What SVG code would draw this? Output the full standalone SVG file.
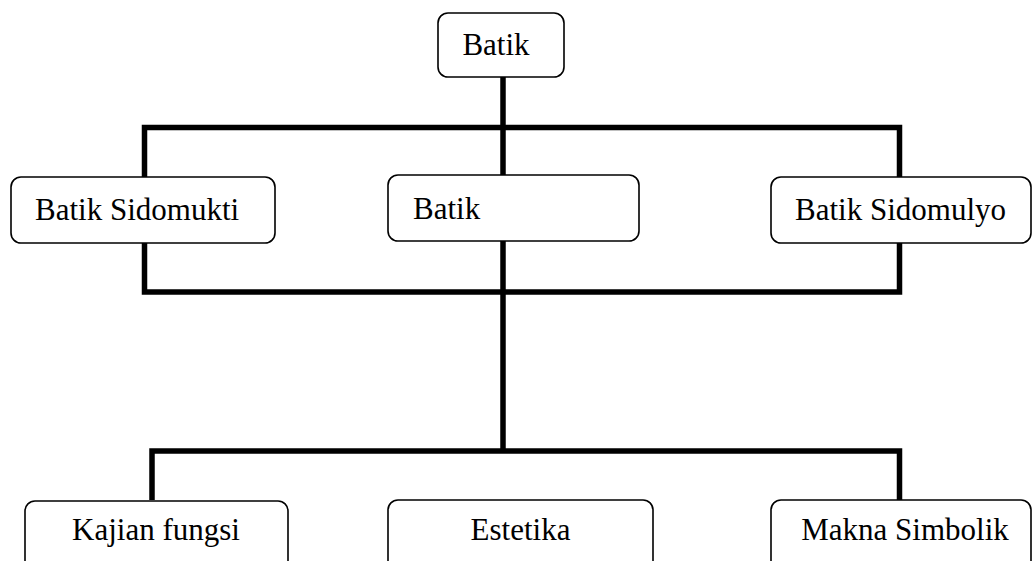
<svg xmlns="http://www.w3.org/2000/svg" width="1033" height="561" viewBox="0 0 1033 561">
<style>
.box{fill:#fff;stroke:#000;stroke-width:1.6}
.lbl{font-family:"Liberation Serif","Times New Roman",serif;font-size:31px;fill:#000}
.conn{fill:none;stroke:#000;stroke-width:5.5;stroke-linejoin:miter;stroke-linecap:butt}
</style>
<rect width="1033" height="561" fill="#fff"/>
<g id="connectors">
<path class="conn" d="M144.5,127.5 H899.5 V292 H144.5 Z"/>
<path class="conn" d="M503,77 V451"/>
<path class="conn" d="M152,500 V451 H899.5 V500"/>
</g>
<g id="node-batik-top">
<rect class="box" x="438" y="13" width="126" height="64" rx="10"/>
<text class="lbl" x="496" y="55" text-anchor="middle">Batik</text>
</g>
<g id="node-sidomukti">
<rect class="box" x="11" y="177" width="264" height="66" rx="10"/>
<text class="lbl" x="35" y="220">Batik Sidomukti</text>
</g>
<g id="node-batik-mid">
<rect class="box" x="388" y="175" width="251" height="66" rx="10"/>
<text class="lbl" x="413" y="219">Batik</text>
</g>
<g id="node-sidomulyo">
<rect class="box" x="771" y="177" width="260" height="66" rx="10"/>
<text class="lbl" x="795" y="220">Batik Sidomulyo</text>
</g>
<g id="node-kajian">
<rect class="box" x="25" y="501" width="263" height="100" rx="10"/>
<text class="lbl" x="156" y="540" text-anchor="middle">Kajian fungsi</text>
</g>
<g id="node-estetika">
<rect class="box" x="388" y="500" width="265" height="100" rx="10"/>
<text class="lbl" x="520.5" y="540" text-anchor="middle">Estetika</text>
</g>
<g id="node-makna">
<rect class="box" x="771" y="500" width="260" height="100" rx="10"/>
<text class="lbl" x="905" y="540" text-anchor="middle">Makna Simbolik</text>
</g>
</svg>
